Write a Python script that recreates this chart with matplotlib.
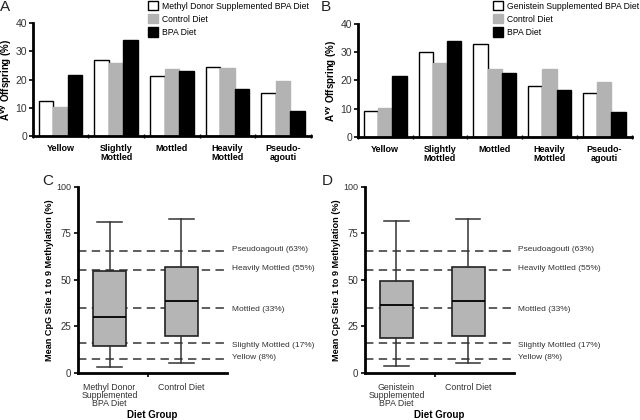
import matplotlib
matplotlib.use("Agg")
import matplotlib.pyplot as plt
from matplotlib.patches import Patch
import numpy as np

plt.rcParams['font.family'] = ['Liberation Sans', 'DejaVu Sans']

# ---- data ----
phenotypes = ["Yellow", "Slightly\nMottled", "Mottled", "Heavily\nMottled", "Pseudo-\nagouti"]

methyl_bpa = [12.3, 27.1, 21.2, 24.4, 15.3]
control_a = [10.3, 26.0, 23.8, 24.1, 19.5]
bpa_a = [21.5, 33.9, 22.9, 16.6, 8.9]

genistein_bpa = [9.2, 29.9, 33.0, 18.0, 15.6]
control_b = [10.3, 26.2, 23.9, 24.1, 19.5]
bpa_b = [21.5, 33.8, 22.8, 16.7, 8.9]

# box stats: whislo, q1, med, q3, whishi
box_methyl = [3.2, 14.6, 30.0, 55.0, 81.0]
box_control = [5.2, 20.0, 38.5, 56.8, 83.0]
box_genistein = [3.6, 19.0, 36.5, 49.3, 81.8]

thresh_vals = [65.3, 55.5, 34.8, 16.0, 7.5]
thresh_labels = ["Pseudoagouti (63%)", "Heavily Mottled (55%)", "Mottled (33%)",
                 "Slightly Mottled (17%)", "Yellow (8%)"]
thresh_label_y = [66.3, 56.3, 34.3, 14.8, 8.3]

GREY = "#b3b3b3"

fig = plt.figure(figsize=(6.4, 4.2), dpi=100)


def bar_panel(rect, series, legend_names, letter, letter_x, legend_x):
    ax = fig.add_axes(rect)
    x = np.arange(len(phenotypes))
    w = 0.26
    colors = ["white", GREY, "black"]
    for k, (vals, c) in enumerate(zip(series, colors)):
        ax.bar(x + (k - 1) * w, vals, w, color=c, edgecolor="black" if c == "white" else c,
               linewidth=1.0)
    ax.set_xlim(-0.5, 4.5)
    ax.set_ylim(0, 40)
    ax.set_yticks([0, 10, 20, 30, 40])
    ax.set_xticks(x)
    ax.set_xticklabels(phenotypes, fontweight="bold", fontsize=6.5, linespacing=0.95)
    ax.set_xticks(np.arange(-0.5, 5.0, 1.0), minor=True)
    ax.tick_params(axis="x", which="major", length=0, pad=6)
    ax.tick_params(axis="x", which="minor", length=3, width=1, direction="inout")
    ax.tick_params(axis="y", length=3, width=1.2, labelsize=7.5, pad=1, labelcolor="#333333")
    for s in ["top", "right"]:
        ax.spines[s].set_visible(False)
    for s in ["left", "bottom"]:
        ax.spines[s].set_linewidth(2)
    ax.set_ylabel("A$^{\\mathbf{vy}}$ Offspring (%)", fontweight="bold", fontsize=7)
    ax.yaxis.set_label_coords(-0.068, 0.5)
    handles = [Patch(facecolor=c, edgecolor="black" if c == "white" else c, linewidth=1)
               for c in colors]
    fig.legend(handles, legend_names, loc="upper left", bbox_to_anchor=(legend_x, 1.001),
               frameon=False, fontsize=6.2, handlelength=1.2, handleheight=1.25,
               handletextpad=0.5, labelspacing=0.42, borderpad=0.2, borderaxespad=0.0)
    fig.text(letter_x, 0.983, letter, fontsize=11, va="center", color="#222222")
    return ax


bar_panel([0.051, 0.676, 0.435, 0.269], [methyl_bpa, control_a, bpa_a],
          ["Methyl Donor Supplemented BPA Diet", "Control Diet", "BPA Diet"], "A", 0.0, 0.228)
bar_panel([0.559, 0.674, 0.428, 0.269], [genistein_bpa, control_b, bpa_b],
          ["Genistein Supplemented BPA Diet", "Control Diet", "BPA Diet"], "B", 0.501, 0.767)


def box_panel(rect, boxes, names, letter, letter_x):
    ax = fig.add_axes(rect)
    stats = []
    for b, n in zip(boxes, names):
        stats.append(dict(whislo=b[0], q1=b[1], med=b[2], q3=b[3], whishi=b[4], label=n))
    ax.bxp(stats, positions=[1, 2], widths=0.46, patch_artist=True, showfliers=False,
           boxprops=dict(facecolor="#b5b5b5", edgecolor="#222222", linewidth=1.2),
           medianprops=dict(color="black", linewidth=1.3),
           whiskerprops=dict(color="#333333", linewidth=1.1),
           capprops=dict(color="#333333", linewidth=1.1), capwidths=0.34)
    ax.set_xlim(0.56, 2.64)
    ax.set_ylim(0, 100)
    for v in thresh_vals:
        ax.axhline(v, color="#333333", linewidth=1.1, linestyle=(0, (5.5, 3.5)), zorder=0.5)
    for lab, ly in zip(thresh_labels, thresh_label_y):
        ax.text(1.03, ly / 100, lab, transform=ax.transAxes, fontsize=6, va="center",
                color="#333333")
    ax.set_yticks([0, 25, 50, 75, 100])
    ax.set_yticklabels(["0", "25", "50", "75", "100"], fontsize=7, color="#333333")
    ax.get_yticklabels()[-1].set_fontsize(6.5)
    ax.set_xticks([1, 2])
    ax.set_xticklabels(names, fontsize=6.3, color="#333333", linespacing=0.85)
    ax.set_xticks([1.54], minor=True)
    ax.tick_params(axis="x", which="major", length=0, pad=7)
    ax.tick_params(axis="x", which="minor", length=3, width=1.2)
    ax.tick_params(axis="y", length=3, width=1.2, pad=2)
    for s in ["top", "right"]:
        ax.spines[s].set_visible(False)
    for s in ["left", "bottom"]:
        ax.spines[s].set_linewidth(2)
    ax.set_ylabel("Mean CpG Site 1 to 9 Methylation (%)", fontweight="bold", fontsize=6.6)
    ax.yaxis.set_label_coords(-0.16, 0.5)
    ax.set_xlabel("Diet Group", fontweight="bold", fontsize=7, va="center")
    ax.xaxis.set_label_coords(0.5, -0.228)
    fig.text(letter_x, 0.569, letter, fontsize=11, va="center", color="#222222")
    return ax


box_panel([0.122, 0.112, 0.233, 0.443], [box_methyl, box_control],
          ["Methyl Donor\nSupplemented\nBPA Diet", "Control Diet"], "C", 0.066)
box_panel([0.570, 0.112, 0.233, 0.443], [box_genistein, box_control],
          ["Genistein\nSupplemented\nBPA Diet", "Control Diet"], "D", 0.503)

fig.savefig("out.png", dpi=100)
